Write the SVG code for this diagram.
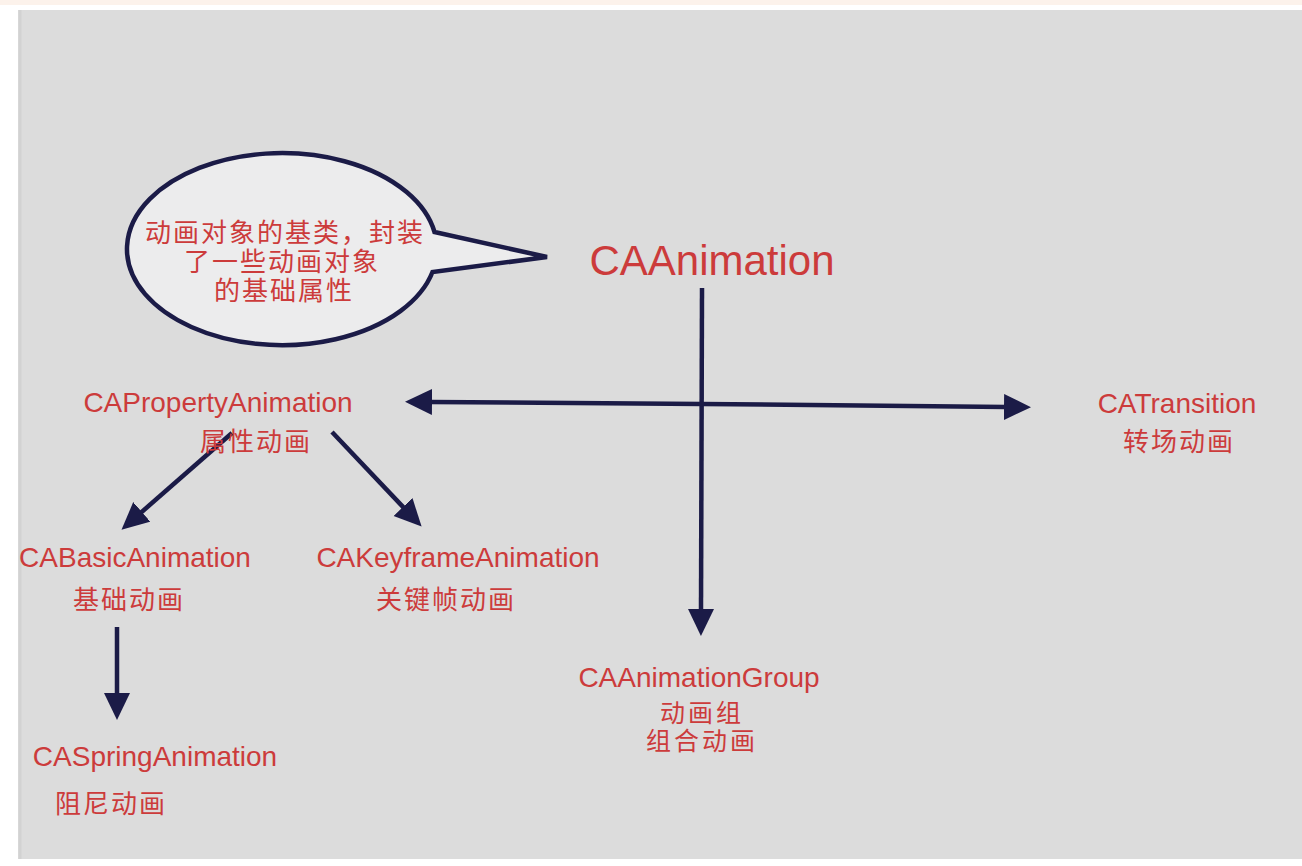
<svg xmlns="http://www.w3.org/2000/svg" width="1302" height="866" viewBox="0 0 1302 866">
  <defs>
    <style>
      .t { font-family: "Liberation Sans", "Noto Sans CJK SC", sans-serif; fill: #cc3b3b; text-anchor: middle; }
      .en { font-size: 28px; }
      .zh { font-size: 26px; letter-spacing: 2px; }
      .zs { font-size: 25px; letter-spacing: 3px; }
      .big { font-size: 42px; }
      .conn { stroke: #1b1b47; stroke-width: 4.5; fill: none; marker-end: url(#ah); }
    </style>
    <marker id="ah" markerUnits="userSpaceOnUse" markerWidth="32" markerHeight="30" refX="2" refY="13" orient="auto" viewBox="0 0 32 30">
      <path d="M0,0 L27,13 L0,26 Z" fill="#1b1b47"/>
    </marker>
  </defs>

  <rect x="0" y="0" width="1302" height="866" fill="#ffffff"/>
  <rect x="0" y="0" width="1302" height="5" fill="#fcf2eb"/>
  <rect x="18" y="10" width="1284" height="849" fill="#dcdcdc"/>
  <line x1="20" y1="10" x2="20" y2="859" stroke="#d2d2d2" stroke-width="3"/>

  <g id="bubble">
    <path d="M434.5,232 L547,257 L432.5,272 A155,96 0 1 1 434.5,232 Z" fill="#ececed" stroke="#1b1b47" stroke-width="4.5" stroke-linejoin="miter"/>
    <text class="t zh" x="285" y="242">动画对象的基类，封装</text>
    <text class="t zh" x="282" y="271">了一些动画对象</text>
    <text class="t zh" x="284" y="300">的基础属性</text>
  </g>

  <g id="connectors">
    <line class="conn" x1="702" y1="288" x2="701" y2="611"/>
    <line class="conn" x1="702" y1="404" x2="430" y2="402"/>
    <line class="conn" x1="702" y1="404" x2="1006" y2="407"/>
    <line class="conn" x1="232" y1="433" x2="140.3" y2="513.2"/>
    <line class="conn" x1="332" y1="432" x2="404.4" y2="508.4"/>
    <line class="conn" x1="117" y1="627" x2="117" y2="695"/>
  </g>

  <g id="n-caanimation">
    <text class="t big" x="712" y="275">CAAnimation</text>
  </g>
  <g id="n-caproperty">
    <text class="t en" x="218" y="412">CAPropertyAnimation</text>
    <text class="t zh" x="256" y="451">属性动画</text>
  </g>
  <g id="n-catransition">
    <text class="t en" x="1177" y="413">CATransition</text>
    <text class="t zh" x="1179" y="451">转场动画</text>
  </g>
  <g id="n-cabasic">
    <text class="t en" x="135" y="567">CABasicAnimation</text>
    <text class="t zh" x="129" y="609">基础动画</text>
  </g>
  <g id="n-cakeyframe">
    <text class="t en" x="458" y="567">CAKeyframeAnimation</text>
    <text class="t zh" x="446" y="609">关键帧动画</text>
  </g>
  <g id="n-caspring">
    <text class="t en" x="155" y="766">CASpringAnimation</text>
    <text class="t zh" x="111" y="813">阻尼动画</text>
  </g>
  <g id="n-cagroup">
    <text class="t en" x="699" y="687">CAAnimationGroup</text>
    <text class="t zs" x="702" y="722">动画组</text>
    <text class="t zs" x="702" y="750">组合动画</text>
  </g>
</svg>
